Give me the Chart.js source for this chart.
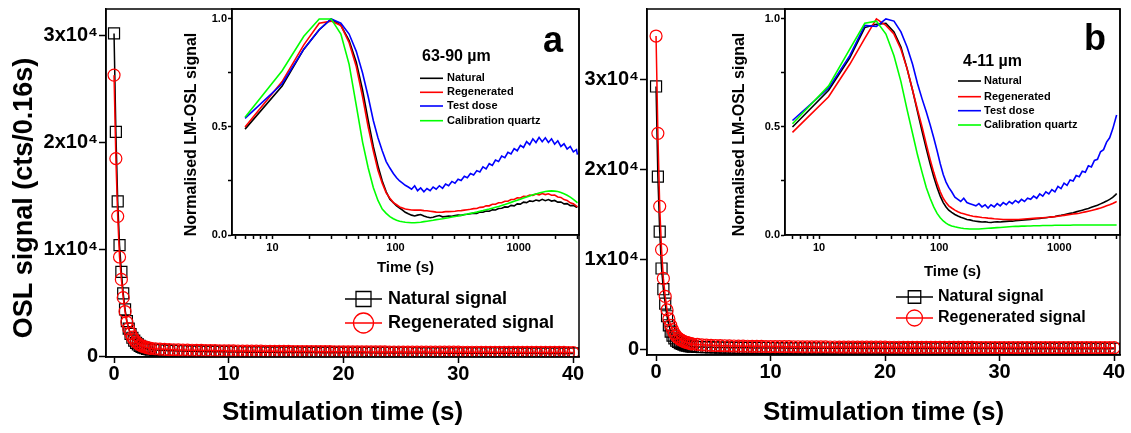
<!DOCTYPE html>
<html>
<head>
<meta charset="utf-8">
<script src="https://cdn.jsdelivr.net/npm/chart.js@4.4.1/dist/chart.umd.min.js"></script>
<style>
  html,body{margin:0;padding:0;background:#fff;}
  body{width:1131px;height:433px;overflow:hidden;position:relative;}
  canvas{position:absolute;top:0;}
</style>
</head>
<body>
<canvas id="mainA" width="590" height="433" style="left:0px"></canvas>
<canvas id="mainB" width="556" height="433" style="left:575px"></canvas>
<canvas id="insetA" width="415" height="285" style="left:170px"></canvas>
<canvas id="insetB" width="405" height="285" style="left:720px"></canvas>
<script>
// ---------------- DATA ----------------
const MAIN_TIME = [0,0.16,0.32,0.48,0.64,0.8,0.96,1.12,1.28,1.44,1.6,1.76,1.92,2.08,2.24,2.4,2.56,2.72,2.88,3.04,3.2,
  3.6,4,4.4,4.8,5.2,5.6,6,6.4,6.8,7.2,
  7.6,8,8.4,8.8,9.2,9.6,10,10.4,10.8,11.2,
  11.6,12,12.4,12.8,13.2,13.6,14,14.4,14.8,15.2,
  15.6,16,16.4,16.8,17.2,17.6,18,18.4,18.8,19.2,
  19.6,20,20.4,20.8,21.2,21.6,22,22.4,22.8,23.2,
  23.6,24,24.4,24.8,25.2,25.6,26,26.4,26.8,27.2,
  27.6,28,28.4,28.8,29.2,29.6,30,30.4,30.8,31.2,
  31.6,32,32.4,32.8,33.2,33.6,34,34.4,34.8,35.2,
  35.6,36,36.4,36.8,37.2,37.6,38,38.4,38.8,39.2,
  39.6,40];

const A_NATURAL = [30200,21000,14500,10400,7900,5900,4400,3300,2600,2100,1750,1480,1280,1120,1000,900,830,770,720,680,650,
  610,580,560,540,525,510,500,490,480,470,
  465,455,450,445,440,430,425,420,418,410,
  405,402,398,395,390,388,384,380,378,375,
  372,370,367,365,362,360,358,355,353,350,
  349,347,345,343,341,340,338,336,334,333,
  331,330,328,326,325,323,322,320,319,318,
  316,315,313,312,311,310,308,307,306,305,
  303,302,301,300,299,298,296,295,294,293,
  292,291,290,289,288,287,286,285,284,283,
  282,281];

const A_REGEN = [26300,18500,13100,9300,7200,5500,4200,3200,2600,2150,1800,1550,1350,1200,1090,1000,930,870,830,790,760,
  720,690,665,645,630,615,600,590,580,570,
  562,555,548,540,535,528,522,517,512,507,
  503,498,494,490,486,482,479,475,472,469,
  466,463,460,457,455,452,450,447,445,443,
  440,438,436,434,432,430,428,426,424,423,
  421,419,417,416,414,413,411,410,408,407,
  405,404,403,401,400,399,397,396,395,394,
  393,391,390,389,388,387,386,385,384,383,
  382,381,380,379,378,377,376,375,374,373,
  372,371];

const B_NATURAL = [29200,19200,13100,9000,6700,5100,3700,2700,2000,1550,1250,1000,850,720,620,540,480,430,390,360,330,
  300,280,265,250,240,230,222,215,208,202,
  197,192,188,184,180,177,174,171,168,165,
  163,160,158,156,154,152,150,148,147,145,
  143,142,140,139,138,136,135,134,133,131,
  130,129,128,127,126,125,124,123,122,121,
  120,119,118,118,117,116,115,114,114,113,
  112,111,111,110,109,109,108,107,107,106,
  105,105,104,104,103,102,102,101,101,100,
  100,99,99,98,98,97,97,96,96,95,
  95,94];

const B_REGEN = [34800,24000,15900,11100,7900,5900,4400,3400,2700,2200,1800,1500,1300,1150,1020,920,840,770,710,660,620,
  570,530,500,475,455,440,425,412,400,390,
  381,372,365,358,351,345,340,335,330,325,
  321,317,313,309,306,302,299,296,293,290,
  288,285,283,280,278,276,274,272,270,268,
  266,264,262,260,259,257,255,254,252,251,
  249,248,246,245,244,242,241,240,238,237,
  236,235,234,233,232,231,230,229,228,227,
  226,225,224,223,222,221,220,219,219,218,
  217,216,215,215,214,213,212,212,211,210,
  210,209];

const MAIN_LABELS = ['Natural signal', 'Regenerated signal'];
const MAIN_X_TICKS = [0, 10, 20, 30, 40];
const MAIN_Y_TICKS = [0, 10000, 20000, 30000];
const MAIN_Y_TICK_LABELS = ['0', '1x10\u2074', '2x10\u2074', '3x10\u2074'];

const LM_TIME = [6,12,18,24,30,36,42,48,54,60,
  66,72,78,84,90,96,102,108,114,120,
  127,135,143,151,160,170,180,191,202,214,
  227,241,255,270,287,304,322,341,362,383,
  406,431,457,484,513,544,577,611,648,687,
  728,772,818,867,919,974,1033,1095,1160,1230,
  1304,1382,1465,1553,1646,1745,1849,1960,2078,2203,
  2335,2475,2624,2781,2948,3000];

const A_LM_NATURAL = [0.49,0.69,0.86,0.95,1.00,0.97,0.90,0.80,0.67,0.53,
  0.41,0.32,0.25,0.20,0.165,0.15,0.135,0.125,0.115,0.105,
  0.098,0.092,0.088,0.092,0.095,0.088,0.083,0.080,0.082,0.087,
  0.090,0.084,0.086,0.088,0.087,0.090,0.092,0.091,0.095,0.096,
  0.098,0.101,0.100,0.106,0.105,0.111,0.110,0.117,0.116,0.123,
  0.124,0.130,0.129,0.137,0.135,0.144,0.143,0.152,0.150,0.158,
  0.155,0.162,0.158,0.165,0.159,0.164,0.157,0.160,0.152,0.153,
  0.144,0.145,0.136,0.137,0.129,0.128];
const A_LM_REGEN = [0.50,0.71,0.88,0.98,0.99,0.97,0.89,0.78,0.64,0.50,
  0.39,0.30,0.24,0.195,0.17,0.15,0.14,0.13,0.125,0.12,
  0.118,0.116,0.115,0.116,0.115,0.113,0.112,0.110,0.108,0.106,
  0.105,0.106,0.108,0.108,0.109,0.110,0.112,0.113,0.115,0.117,
  0.119,0.122,0.123,0.128,0.129,0.135,0.135,0.142,0.142,0.149,
  0.149,0.156,0.156,0.164,0.164,0.172,0.171,0.179,0.178,0.185,
  0.183,0.190,0.186,0.192,0.187,0.191,0.184,0.185,0.176,0.174,
  0.164,0.160,0.149,0.145,0.134,0.130];
const A_LM_TEST = [0.54,0.70,0.86,0.95,1.00,0.98,0.93,0.85,0.75,0.64,
  0.53,0.45,0.39,0.34,0.31,0.285,0.265,0.25,0.24,0.23,
  0.222,0.212,0.228,0.205,0.218,0.200,0.215,0.205,0.222,0.212,
  0.228,0.216,0.236,0.228,0.248,0.240,0.258,0.252,0.272,0.265,
  0.285,0.278,0.298,0.292,0.315,0.306,0.330,0.322,0.347,0.340,
  0.365,0.358,0.383,0.375,0.400,0.390,0.415,0.405,0.432,0.418,
  0.445,0.428,0.452,0.432,0.450,0.428,0.445,0.420,0.436,0.410,
  0.422,0.398,0.410,0.385,0.395,0.372];
const A_LM_CALIB = [0.545,0.76,0.92,1.00,1.00,0.93,0.79,0.60,0.43,0.31,
  0.22,0.16,0.12,0.10,0.085,0.075,0.068,0.064,0.061,0.059,
  0.058,0.057,0.057,0.058,0.059,0.062,0.064,0.066,0.068,0.071,
  0.073,0.075,0.078,0.080,0.083,0.086,0.088,0.091,0.094,0.097,
  0.100,0.103,0.106,0.110,0.113,0.117,0.120,0.124,0.128,0.132,
  0.137,0.141,0.146,0.151,0.156,0.161,0.166,0.171,0.176,0.181,
  0.186,0.190,0.194,0.198,0.201,0.203,0.204,0.203,0.201,0.197,
  0.191,0.184,0.175,0.165,0.153,0.149];

const B_LM_NATURAL = [0.50,0.67,0.82,0.96,0.975,0.98,0.94,0.87,0.77,0.67,
  0.57,0.48,0.40,0.33,0.27,0.22,0.18,0.15,0.13,0.115,
  0.105,0.095,0.088,0.082,0.078,0.072,0.070,0.066,0.064,0.062,
  0.060,0.061,0.059,0.058,0.060,0.061,0.060,0.062,0.063,0.064,
  0.064,0.066,0.067,0.068,0.070,0.071,0.072,0.074,0.075,0.077,
  0.079,0.080,0.082,0.084,0.086,0.089,0.091,0.094,0.097,0.100,
  0.103,0.107,0.111,0.115,0.119,0.123,0.128,0.133,0.138,0.144,
  0.150,0.157,0.165,0.174,0.187,0.192];
const B_LM_REGEN = [0.475,0.64,0.79,0.91,1.00,0.97,0.93,0.86,0.77,0.67,
  0.58,0.50,0.42,0.35,0.29,0.24,0.20,0.17,0.15,0.135,
  0.125,0.115,0.108,0.102,0.098,0.094,0.090,0.087,0.085,0.083,
  0.081,0.080,0.078,0.077,0.075,0.074,0.073,0.072,0.072,0.071,
  0.071,0.072,0.072,0.073,0.074,0.075,0.076,0.077,0.078,0.079,
  0.080,0.081,0.082,0.084,0.085,0.087,0.089,0.091,0.093,0.095,
  0.097,0.099,0.101,0.104,0.107,0.110,0.113,0.117,0.121,0.125,
  0.130,0.135,0.140,0.146,0.153,0.156];
const B_LM_TEST = [0.53,0.68,0.83,0.97,0.965,1.00,0.99,0.94,0.87,0.79,
  0.70,0.63,0.57,0.51,0.45,0.39,0.33,0.28,0.245,0.22,
  0.20,0.175,0.165,0.155,0.170,0.150,0.145,0.140,0.135,0.145,
  0.130,0.140,0.125,0.140,0.130,0.145,0.135,0.150,0.140,0.155,
  0.145,0.160,0.150,0.165,0.155,0.170,0.165,0.180,0.170,0.190,
  0.180,0.200,0.190,0.210,0.200,0.225,0.215,0.240,0.230,0.255,
  0.250,0.275,0.270,0.295,0.290,0.320,0.315,0.345,0.350,0.385,
  0.395,0.430,0.450,0.490,0.540,0.555];
const B_LM_CALIB = [0.515,0.69,0.86,0.98,0.99,0.93,0.83,0.71,0.58,0.47,
  0.37,0.29,0.22,0.17,0.13,0.10,0.08,0.065,0.055,0.047,
  0.042,0.038,0.035,0.032,0.030,0.029,0.028,0.028,0.028,0.028,
  0.029,0.030,0.031,0.032,0.033,0.034,0.035,0.036,0.037,0.038,
  0.039,0.040,0.040,0.041,0.041,0.042,0.042,0.043,0.043,0.043,
  0.044,0.044,0.044,0.044,0.045,0.045,0.045,0.045,0.045,0.045,
  0.046,0.046,0.046,0.046,0.046,0.046,0.046,0.046,0.046,0.046,
  0.046,0.046,0.046,0.046,0.046,0.046];

const LM_LABELS = ['Natural', 'Regenerated', 'Test dose', 'Calibration quartz'];
const LM_COLORS = ['#000000', '#ff0000', '#0000ff', '#00ff00'];
const LM_X_TICKS = [5,6,7,8,9,10,20,30,40,50,60,70,80,90,100,200,300,400,500,600,700,800,900,1000,2000,3000];
const LM_X_LABELLED = [10, 100, 1000];
const LM_Y_TICKS = [0, 0.25, 0.5, 0.75, 1.0];
const LM_Y_TICK_LABELS = ['0.0', '', '0.5', '', '1.0'];

// ---------------- RENDERING ----------------
const FAMILY = '"Liberation Sans", Arial, Helvetica, sans-serif';
Chart.defaults.font.family = FAMILY;
Chart.defaults.color = '#000';

const deco = {
  id: 'deco',
  afterDraw(chart, args, o) {
    const ctx = chart.ctx, a = chart.chartArea;
    ctx.save();
    if (o.box) {
      ctx.strokeStyle = '#000'; ctx.lineWidth = 1.5;
      ctx.strokeRect(a.left, a.top, a.right - a.left, a.bottom - a.top);
    }
    (o.texts || []).forEach(t => {
      ctx.save();
      ctx.font = t.font; ctx.fillStyle = '#000';
      ctx.textAlign = t.align || 'center'; ctx.textBaseline = t.baseline || 'middle';
      ctx.translate(t.x, t.y);
      if (t.rot) ctx.rotate(t.rot);
      ctx.fillText(t.text, 0, 0);
      ctx.restore();
    });
    const L = o.legend;
    if (L) {
      chart.data.datasets.forEach((ds, i) => {
        const y = L.rows[i];
        ctx.strokeStyle = ds.borderColor; ctx.lineWidth = L.lineWidth;
        ctx.beginPath(); ctx.moveTo(L.x0, y); ctx.lineTo(L.x1, y); ctx.stroke();
        if (L.markers) {
          const cx = (L.x0 + L.x1) / 2;
          ctx.lineWidth = 1.3;
          ctx.beginPath();
          if (ds.pointStyle === 'rect') {
            const h = L.markers.square / 2;
            ctx.rect(cx - h, y - h, 2 * h, 2 * h);
          } else {
            ctx.arc(cx, y, L.markers.circle, 0, Math.PI * 2);
          }
          ctx.stroke();
        }
        ctx.fillStyle = '#000'; ctx.font = L.font;
        ctx.textAlign = 'left'; ctx.textBaseline = 'middle';
        ctx.fillText(ds.label, L.tx, y);
      });
    }
    ctx.restore();
  }
};
Chart.register(deco);

function axisCommon(tickLen) {
  return {
    grid: { drawOnChartArea: false, drawTicks: true, tickLength: tickLen, tickWidth: 1.5, tickColor: '#000' },
    border: { display: true, color: '#000', width: 1.5 }
  };
}

function mainChart(id, c) {
  return new Chart(document.getElementById(id), {
    type: 'line',
    data: {
      datasets: [
        { label: MAIN_LABELS[0], data: MAIN_TIME.map((t, i) => ({ x: t, y: c.nat[i] })),
          borderColor: '#000', borderWidth: 1.5, pointStyle: 'rect', pointRadius: 7.8,
          pointBorderWidth: 1.2, pointBorderColor: '#000', pointBackgroundColor: 'rgba(0,0,0,0)', order: 1 },
        { label: MAIN_LABELS[1], data: MAIN_TIME.map((t, i) => ({ x: t, y: c.reg[i] })),
          borderColor: '#ff0000', borderWidth: 1.5, pointStyle: 'circle', pointRadius: 6,
          pointBorderWidth: 1.2, pointBorderColor: '#ff0000', pointBackgroundColor: 'rgba(0,0,0,0)', order: 0 }
      ]
    },
    options: {
      responsive: false, animation: false, devicePixelRatio: 1,
      layout: { padding: { top: 9, right: c.padRight, left: 0, bottom: 0 } },
      plugins: { legend: { display: false }, tooltip: { enabled: false }, deco: c.deco },
      scales: {
        x: Object.assign(axisCommon(6), {
          type: 'linear', min: c.xmin, max: c.xmax,
          afterFit(s) { s.height = c.xh; },
          afterBuildTicks(s) { s.ticks = MAIN_X_TICKS.map(v => ({ value: v })); },
          ticks: { font: { size: 20, weight: 'bold', lineHeight: 1 }, padding: 1, maxRotation: 0, autoSkip: false,
                   callback: (v) => String(v) },
          title: { display: true, text: 'Stimulation time (s)', font: { size: 26, weight: 'bold' }, padding: { top: 0, bottom: 5 } }
        }),
        y: Object.assign(axisCommon(7), {
          type: 'linear', min: c.ymin, max: c.ymax,
          afterFit(s) { s.width = c.yw; },
          afterBuildTicks(s) { s.ticks = MAIN_Y_TICKS.map(v => ({ value: v })); },
          ticks: { font: { size: 20, weight: 'bold', lineHeight: 0.8 }, padding: 1,
                   callback: (v, i) => MAIN_Y_TICK_LABELS[i] }
        })
      }
    }
  });
}

function insetChart(id, c) {
  return new Chart(document.getElementById(id), {
    type: 'line',
    data: {
      datasets: c.series.map((arr, k) => ({
        label: LM_LABELS[k], data: LM_TIME.map((t, i) => ({ x: t, y: arr[i] })),
        borderColor: LM_COLORS[k], borderWidth: 1.6, pointRadius: 0, order: 3 - k
      }))
    },
    options: {
      responsive: false, animation: false, devicePixelRatio: 1,
      layout: { padding: { top: 9, right: c.padRight, left: 0, bottom: 0 } },
      plugins: { legend: { display: false }, tooltip: { enabled: false }, deco: c.deco },
      scales: {
        x: Object.assign(axisCommon(4), {
          type: 'logarithmic', min: c.xmin, max: c.xmax,
          afterFit(s) { s.height = 50; },
          afterBuildTicks(s) { s.ticks = LM_X_TICKS.filter(v => v >= c.xmin && v <= c.xmax).map(v => ({ value: v })); },
          ticks: { font: { size: 11, weight: 'bold', lineHeight: 1 }, padding: 3, maxRotation: 0, autoSkip: false,
                   callback: (v) => LM_X_LABELLED.includes(v) ? String(v) : '' },
          title: { display: true, text: 'Time (s)', font: { size: 15, weight: 'bold' }, padding: { top: 0, bottom: c.tpad } }
        }),
        y: Object.assign(axisCommon(4), {
          type: 'linear', min: 0, max: 1.046,
          afterFit(s) { s.width = c.yw; },
          afterBuildTicks(s) { s.ticks = LM_Y_TICKS.map(v => ({ value: v })); },
          ticks: { font: { size: 11, weight: 'bold' }, padding: 1, callback: (v, i) => LM_Y_TICK_LABELS[i] }
        })
      }
    }
  });
}

mainChart('mainA', {
  nat: A_NATURAL, reg: A_REGEN, xmin: -0.7, xmax: 40.52, ymin: -50, ymax: 32480,
  yw: 106, xh: 76, padRight: 11,
  deco: {
    box: true,
    texts: [
      { text: 'OSL signal (cts/0.16s)', x: 25, y: 198, rot: -Math.PI / 2, font: 'bold 27px ' + FAMILY },
      { text: 'a', x: 553, y: 52, baseline: 'alphabetic', font: 'bold 36px ' + FAMILY }
    ],
    legend: { x0: 345, x1: 382, tx: 388, rows: [299, 323], font: 'bold 18px ' + FAMILY, lineWidth: 1.5,
              markers: { square: 15, circle: 10 } }
  }
});

mainChart('mainB', {
  nat: B_NATURAL, reg: B_REGEN, xmin: -0.79, xmax: 40.52, ymin: -600, ymax: 37800,
  yw: 72, xh: 78, padRight: 11,
  deco: {
    box: true,
    texts: [
      { text: 'b', x: 520, y: 50, baseline: 'alphabetic', font: 'bold 36px ' + FAMILY }
    ],
    legend: { x0: 321, x1: 358, tx: 363, rows: [297, 318], font: 'bold 16px ' + FAMILY, lineWidth: 1.5,
              markers: { square: 12.5, circle: 8 } }
  }
});

insetChart('insetA', {
  series: [A_LM_NATURAL, A_LM_REGEN, A_LM_TEST, A_LM_CALIB],
  xmin: 4.7, xmax: 3090, yw: 62, padRight: 6, tpad: 8,
  deco: {
    box: true,
    texts: [
      { text: 'Normalised LM-OSL signal', x: 22, y: 134.5, rot: -Math.PI / 2, font: 'bold 16px ' + FAMILY },
      { text: '63-90 \u00b5m', x: 252, y: 57, align: 'left', font: 'bold 16px ' + FAMILY }
    ],
    legend: { x0: 250, x1: 273, tx: 277, rows: [78.3, 92.3, 106, 120.7], font: 'bold 11px ' + FAMILY, lineWidth: 1.6 }
  }
});

insetChart('insetB', {
  series: [B_LM_NATURAL, B_LM_REGEN, B_LM_TEST, B_LM_CALIB],
  xmin: 5.2, xmax: 3200, yw: 65, padRight: 5, tpad: 4,
  deco: {
    box: true,
    texts: [
      { text: 'Normalised LM-OSL signal', x: 20, y: 134.5, rot: -Math.PI / 2, font: 'bold 16px ' + FAMILY },
      { text: '4-11 \u00b5m', x: 243, y: 62, align: 'left', font: 'bold 16px ' + FAMILY }
    ],
    legend: { x0: 238, x1: 261, tx: 264, rows: [81, 96.7, 110.7, 125], font: 'bold 11px ' + FAMILY, lineWidth: 1.6 }
  }
});
</script>
</body>
</html>
